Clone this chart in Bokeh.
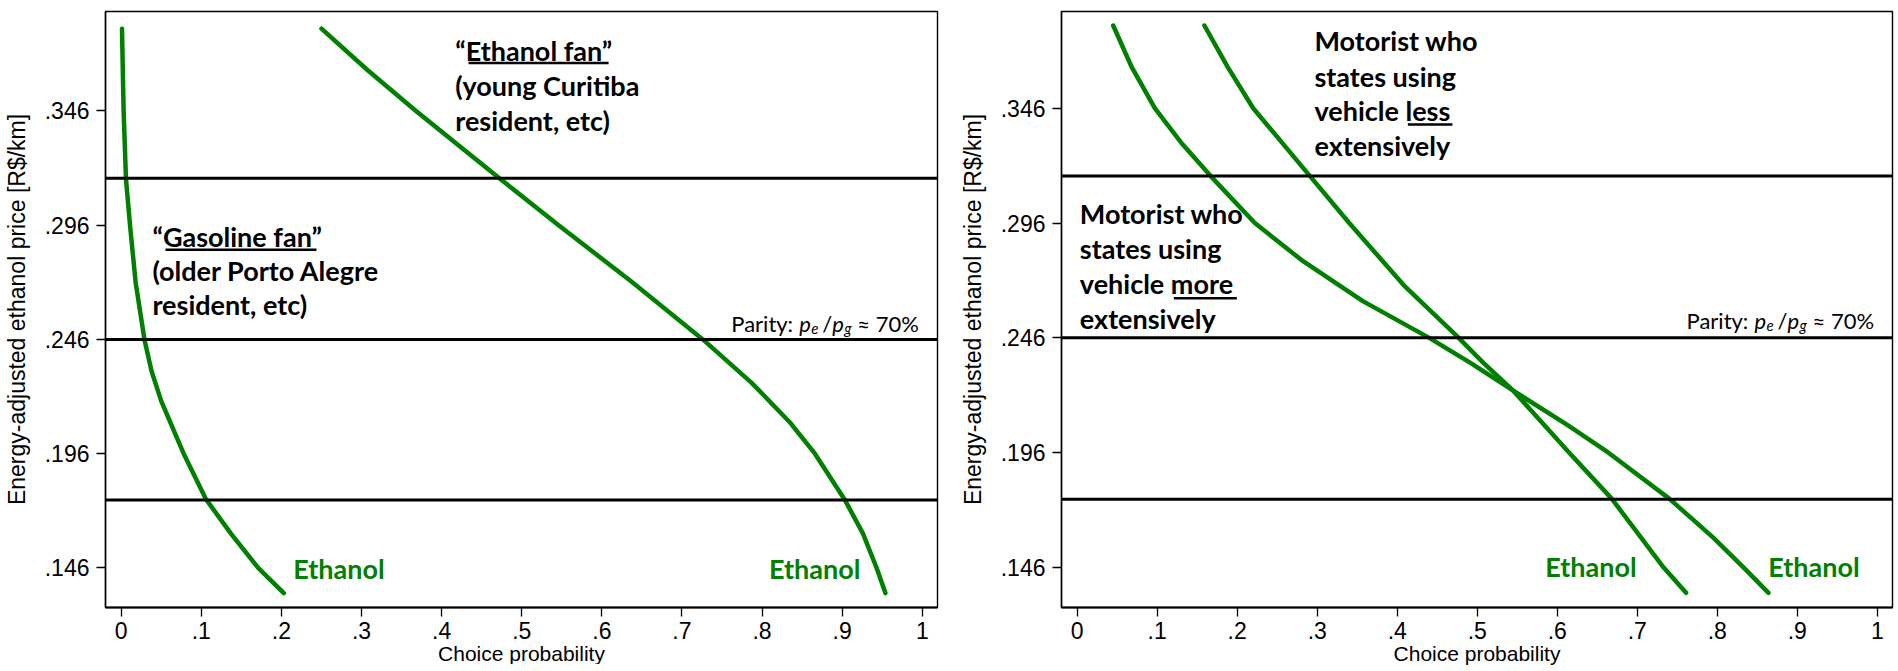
from bokeh.plotting import figure
from bokeh.models import Range1d, FixedTicker, Span, Label
from bokeh.layouts import row
from bokeh.embed import file_html
from bokeh.resources import INLINE

# ---------------- data ----------------
y_ticks = [0.146, 0.196, 0.246, 0.296, 0.346]
y_tick_labels = [".146", ".196", ".246", ".296", ".346"]
x_ticks = [0.0, 0.1, 0.2, 0.3, 0.4, 0.5, 0.6, 0.7, 0.8, 0.9, 1.0]
x_tick_labels = ["0", ".1", ".2", ".3", ".4", ".5", ".6", ".7", ".8", ".9", "1"]

# horizontal reference price levels (50%, 70% parity, 90% of gasoline price)
ref_prices = [0.1757, 0.246, 0.3165]

# left panel: "Gasoline fan"
gas_fan_price = [0.382, 0.346, 0.316, 0.296, 0.271, 0.246, 0.232, 0.219, 0.196, 0.176, 0.161, 0.146, 0.135]
gas_fan_prob = [0.001, 0.003, 0.006, 0.011, 0.018, 0.029, 0.038, 0.050, 0.078, 0.106, 0.137, 0.171, 0.203]

# left panel: "Ethanol fan"
eth_fan_price = [0.382, 0.364, 0.346, 0.316, 0.296, 0.271, 0.246, 0.227, 0.210, 0.196, 0.176, 0.161, 0.146, 0.135]
eth_fan_prob = [0.250, 0.307, 0.368, 0.474, 0.546, 0.638, 0.726, 0.787, 0.834, 0.866, 0.903, 0.926, 0.943, 0.954]

# right panel: uses vehicle more extensively
more_ext_price = [0.382, 0.364, 0.346, 0.331, 0.316, 0.296, 0.280, 0.262, 0.246, 0.235, 0.223,
                  0.208, 0.196, 0.176, 0.159, 0.146, 0.135]
more_ext_prob = [0.045, 0.068, 0.097, 0.130, 0.168, 0.222, 0.280, 0.357, 0.440, 0.492, 0.545,
                 0.613, 0.664, 0.740, 0.795, 0.833, 0.864]

# right panel: uses vehicle less extensively
less_ext_price = [0.382, 0.364, 0.346, 0.316, 0.296, 0.269, 0.247, 0.235, 0.223, 0.196, 0.176, 0.146, 0.135]
less_ext_prob = [0.159, 0.188, 0.220, 0.292, 0.340, 0.408, 0.474, 0.508, 0.545, 0.615, 0.668, 0.733, 0.761]

# ---------------- style ----------------
GREEN = "#008000"
AX_FONT = "Liberation Sans"
ANN_FONT = "Lato"
X_RANGE = (-0.0196, 1.019)


def make_fig(y_range, border_top, border_left, border_right, frame_w, label_standoff):
    p = figure(frame_width=frame_w, frame_height=596, output_backend="svg",
               toolbar_location=None, x_range=Range1d(*X_RANGE), y_range=Range1d(*y_range),
               min_border_left=border_left, min_border_right=border_right,
               min_border_top=border_top, min_border_bottom=20)
    p.xgrid.visible = False
    p.ygrid.visible = False
    p.outline_line_color = "black"
    p.outline_line_width = 1.4
    p.background_fill_color = "white"
    p.border_fill_color = "white"

    p.xaxis.ticker = FixedTicker(ticks=x_ticks)
    p.xaxis.major_label_overrides = {t: l for t, l in zip(x_ticks, x_tick_labels)}
    p.yaxis.ticker = FixedTicker(ticks=y_ticks)
    p.yaxis.major_label_overrides = {t: l for t, l in zip(y_ticks, y_tick_labels)}
    for ax in (p.xaxis[0], p.yaxis[0]):
        ax.major_tick_in = 0
        ax.major_tick_out = 9
        ax.minor_tick_line_color = None
        ax.major_tick_line_color = "black"
        ax.major_tick_line_width = 1.3
        ax.axis_line_color = "black"
        ax.major_label_text_font = AX_FONT
        ax.major_label_text_font_size = "23px"
        ax.major_label_text_color = "black"
        ax.axis_label_text_font = AX_FONT
        ax.axis_label_text_font_style = "normal"
        ax.axis_label_text_color = "black"
    p.xaxis.axis_line_width = 2.2
    p.yaxis.axis_line_width = 1.4
    p.xaxis.major_label_standoff = 5
    p.yaxis.major_label_standoff = 7
    p.xaxis.axis_label = "Choice probability"
    p.xaxis.axis_label_text_font_size = "21px"
    p.xaxis.axis_label_standoff = 0
    p.yaxis.axis_label = "Energy-adjusted ethanol price [R$/km]"
    p.yaxis.axis_label_text_font_size = "23px"
    p.yaxis.axis_label_standoff = label_standoff

    for lvl in ref_prices:
        p.add_layout(Span(location=lvl, dimension="width", line_color="black", line_width=3))
    return p


def ann(p, x, y, text, size="27px", color="black", style="bold", font=ANN_FONT,
        x_offset=0, y_offset=0, align="left"):
    p.add_layout(Label(x=x, y=y, text=text, text_font=font, text_font_size=size,
                       text_font_style=style, text_color=color, text_baseline="alphabetic",
                       text_align=align, x_offset=x_offset, y_offset=y_offset))


def parity(p, y0):
    x0 = 0.7616
    ann(p, x0, y0, "Parity:", size="22px", style="normal")
    ann(p, x0, y0, "p", size="22px", style="italic", x_offset=68)
    ann(p, x0, y0, "e", size="15px", style="italic", x_offset=80, y_offset=-5)
    ann(p, x0, y0, "/", size="22px", style="normal", x_offset=91)
    ann(p, x0, y0, "p", size="22px", style="italic", x_offset=101)
    ann(p, x0, y0, "g", size="15px", style="italic", x_offset=113, y_offset=-5)
    ann(p, x0, y0, "\u2248 70%", size="22px", style="normal", x_offset=126)


def curve(p, xs, ys):
    p.line(xs, ys, line_color=GREEN, line_width=4.5, line_cap="round", line_join="round")


# ---------------- left panel ----------------
p1 = make_fig((0.1287, 0.3895), 8, 105, 10, 832, 12)
curve(p1, gas_fan_prob, gas_fan_price)
curve(p1, eth_fan_prob, eth_fan_price)

ann(p1, 0.417, 0.3723, "\u201cEthanol fan\u201d")
ann(p1, 0.417, 0.3570, "(young Curitiba")
ann(p1, 0.417, 0.3420, "resident, etc)")
ann(p1, 0.039, 0.2909, "\u201cGasoline fan\u201d")
ann(p1, 0.039, 0.2761, "(older Porto Alegre")
ann(p1, 0.039, 0.2615, "resident, etc)")
ann(p1, 0.2147, 0.1456, "Ethanol", color=GREEN)
ann(p1, 0.8087, 0.1456, "Ethanol", color=GREEN)
parity(p1, 0.2530)

ul_left_x0 = [0.4336, 0.0553]
ul_left_x1 = [0.6084, 0.2438]
ul_left_y = [0.3670, 0.2853]
p1.segment(ul_left_x0, ul_left_y, ul_left_x1, ul_left_y, line_color="black", line_width=2.5)

# ---------------- right panel ----------------
p2 = make_fig((0.1286, 0.3881), 11, 114, 4, 831, 12)
curve(p2, more_ext_prob, more_ext_price)
curve(p2, less_ext_prob, less_ext_price)

ann(p2, 0.2965, 0.3753, "Motorist who")
ann(p2, 0.2965, 0.3600, "states using")
ann(p2, 0.2965, 0.3451, "vehicle less")
ann(p2, 0.2965, 0.3298, "extensively")
ann(p2, 0.0033, 0.3001, "Motorist who")
ann(p2, 0.0033, 0.2848, "states using")
ann(p2, 0.0033, 0.2696, "vehicle more")
ann(p2, 0.0033, 0.2543, "extensively")
ann(p2, 0.585, 0.1464, "Ethanol", color=GREEN)
ann(p2, 0.8638, 0.1464, "Ethanol", color=GREEN)
parity(p2, 0.2536)

ul_right_x0 = [0.4133, 0.1208]
ul_right_x1 = [0.469, 0.1995]
ul_right_y = [0.3389, 0.2633]
p2.segment(ul_right_x0, ul_right_y, ul_right_x1, ul_right_y, line_color="black", line_width=2.5)

layout = row(p1, p2)
open("out.html", "w").write(file_html(layout, INLINE))
